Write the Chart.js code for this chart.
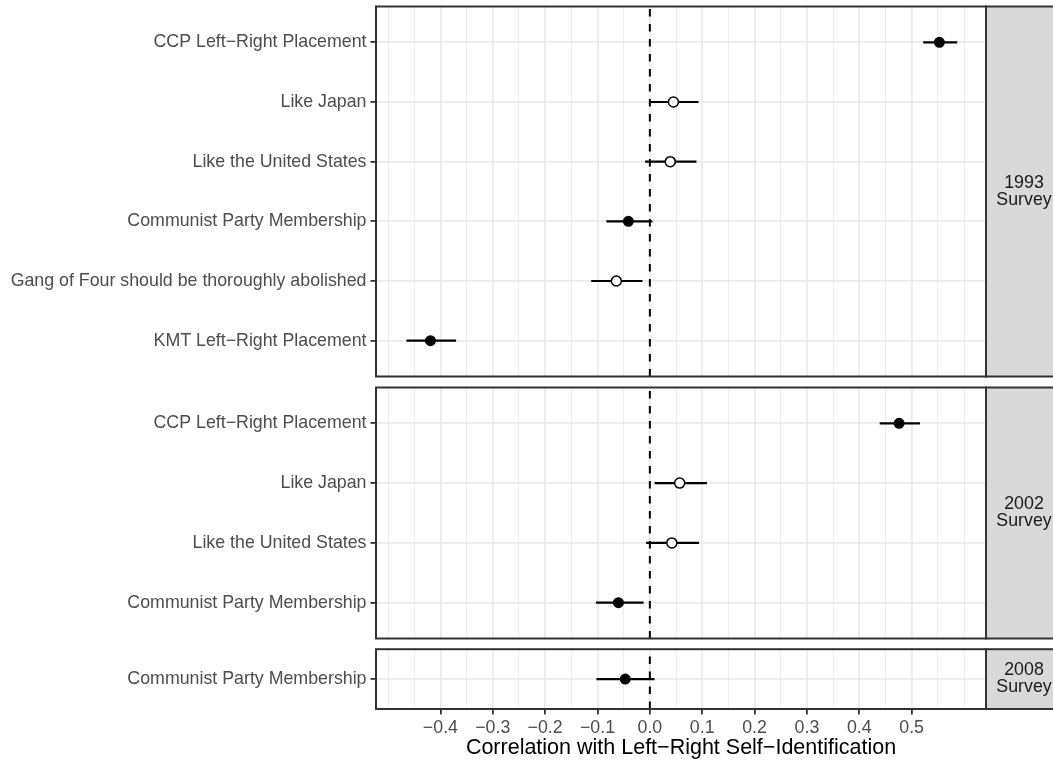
<!DOCTYPE html>
<html>
<head>
<meta charset="utf-8">
<script src="https://cdn.jsdelivr.net/npm/chart.js@4.4.1/dist/chart.umd.min.js"></script>
<style>
  body { margin: 0; background: #fff; }
  #wrap { position: relative; width: 1053px; height: 763px; overflow: hidden; }
  #wrap canvas { position: absolute; left: 0; }
</style>
</head>
<body>
<div id="wrap">
  <canvas id="s1993" width="1053" height="383" style="top:0"></canvas>
  <canvas id="s2002" width="1053" height="264" style="top:381px"></canvas>
  <canvas id="s2008" width="1053" height="120" style="top:643px"></canvas>
</div>
<script>
// 1993 survey
const items1993 = ['CCP Left\u2212Right Placement', 'Like Japan', 'Like the United States',
  'Communist Party Membership', 'Gang of Four should be thoroughly abolished', 'KMT Left\u2212Right Placement'];
const est1993 = [0.553, 0.045, 0.039, -0.041, -0.064, -0.419];
const lo1993 = [0.522, -0.001, -0.009, -0.083, -0.112, -0.465];
const hi1993 = [0.587, 0.093, 0.089, 0.005, -0.014, -0.370];
const sig1993 = [true, false, false, true, false, true];

// 2002 survey
const items2002 = ['CCP Left\u2212Right Placement', 'Like Japan', 'Like the United States', 'Communist Party Membership'];
const est2002 = [0.476, 0.057, 0.042, -0.060];
const lo2002 = [0.439, 0.009, -0.007, -0.103];
const hi2002 = [0.516, 0.109, 0.094, -0.012];
const sig2002 = [true, false, false, true];

// 2008 survey
const items2008 = ['Communist Party Membership'];
const est2008 = [-0.047];
const lo2008 = [-0.102];
const hi2008 = [0.009];
const sig2008 = [true];

// x axis breaks
const xTicks = [-0.4, -0.3, -0.2, -0.1, 0.0, 0.1, 0.2, 0.3, 0.4, 0.5];
const xMinor = [-0.5, -0.45, -0.35, -0.25, -0.15, -0.05, 0.05, 0.15, 0.25, 0.35, 0.45, 0.55, 0.6];

const FONT = '"Liberation Sans", Arial, Helvetica, sans-serif';
const AXIS_TEXT = '#4D4D4D';
const GRID = '#EBEBEB';
const FRAME = '#333333';

Chart.defaults.font.family = FONT;

const xGrid = xTicks.concat(xMinor).sort((a, b) => a - b);
const isMajor = v => xTicks.some(t => Math.abs(t - v) < 1e-9);
const fmt = v => (v < -1e-9 ? '\u2212' : '') + Math.abs(v).toFixed(1);

// zero line, panel frame and the grey strip on the right
const panelDecor = {
  id: 'panelDecor',
  beforeDatasetsDraw(chart) {
    const { ctx, chartArea: a, scales: { x } } = chart;
    const px = x.getPixelForValue(0);
    ctx.save();
    ctx.strokeStyle = '#000';
    ctx.lineWidth = 2;
    ctx.setLineDash([7.5, 7.5]);
    ctx.beginPath();
    ctx.moveTo(px, a.bottom);
    ctx.lineTo(px, a.top);
    ctx.stroke();
    ctx.restore();
  },
  afterDraw(chart, args, opts) {
    const { ctx, chartArea: a } = chart;
    const h = a.bottom - a.top;
    ctx.save();
    ctx.fillStyle = '#D9D9D9';
    ctx.fillRect(a.right, a.top, 76, h);
    ctx.strokeStyle = FRAME;
    ctx.lineWidth = 2;
    ctx.strokeRect(a.right, a.top, 76, h);
    ctx.strokeRect(a.left, a.top, a.right - a.left, h);
    ctx.fillStyle = '#1A1A1A';
    ctx.font = '17.8px ' + FONT;
    ctx.textAlign = 'center';
    ctx.textBaseline = 'middle';
    const cx = a.right + 38, cy = (a.top + a.bottom) / 2, lh = 17;
    opts.strip.forEach((t, i) => {
      ctx.fillText(t, cx, cy + (i - (opts.strip.length - 1) / 2) * lh);
    });
    ctx.restore();
  }
};

function makePanel(id, items, est, lo, hi, sig, strip, pad, showAxis) {
  const n = items.length;
  const points = {
    data: est.map((v, i) => ({ x: v, y: i + 1 })),
    pointRadius: sig.map(s => s ? 4.8 : 5),
    pointBorderWidth: sig.map(s => s ? 1.4 : 1.5),
    pointBackgroundColor: sig.map(s => s ? '#000' : '#fff'),
    pointBorderColor: '#000',
    order: 0
  };
  const ranges = lo.map((l, i) => ({
    data: [{ x: l, y: i + 1 }, { x: hi[i], y: i + 1 }],
    showLine: true,
    borderColor: '#000',
    borderWidth: 2.2,
    pointRadius: 0,
    order: 1
  }));

  return new Chart(document.getElementById(id), {
    type: 'scatter',
    data: { datasets: [points, ...ranges] },
    plugins: [panelDecor],
    options: {
      responsive: false,
      animation: false,
      devicePixelRatio: 1,
      layout: { padding: { top: pad.top, bottom: pad.bottom, left: 0, right: 67 } },
      plugins: {
        legend: { display: false },
        tooltip: { enabled: false },
        panelDecor: { strip: strip }
      },
      scales: {
        x: {
          type: 'linear',
          min: -0.523,
          max: 0.642,
          afterBuildTicks: s => { s.ticks = xGrid.map(v => ({ value: v })); },
          afterFit: s => {
            s.height = showAxis ? 54 : 0;
            s.paddingLeft = 0;
            s.paddingRight = 0;
          },
          border: { display: false },
          grid: {
            color: GRID,
            lineWidth: c => isMajor(c.tick.value) ? 1.8 : 0.9,
            drawTicks: showAxis,
            tickLength: 5.5,
            tickWidth: 1.8,
            tickColor: c => isMajor(c.tick.value) ? FRAME : 'rgba(0,0,0,0)'
          },
          ticks: {
            display: showAxis,
            autoSkip: false,
            maxRotation: 0,
            padding: 3,
            color: AXIS_TEXT,
            font: { size: 17.8 },
            callback: v => isMajor(v) ? fmt(v) : ''
          },
          title: {
            display: showAxis,
            text: 'Correlation with Left\u2212Right Self\u2212Identification',
            color: '#000',
            font: { size: 21.5 },
            padding: { top: 0, bottom: 2 }
          }
        },
        y: {
          type: 'linear',
          reverse: true,
          min: n > 1 ? 0.4 : 0.5,
          max: n > 1 ? n + 0.6 : 1.5,
          afterBuildTicks: s => { s.ticks = items.map((_, i) => ({ value: i + 1 })); },
          afterFit: s => {
            s.width = 376;
            s.paddingTop = 0;
            s.paddingBottom = 0;
          },
          border: { display: false },
          grid: { color: GRID, lineWidth: 1.8, tickLength: 5.5, tickWidth: 1.8, tickColor: FRAME },
          ticks: {
            autoSkip: false,
            padding: 4,
            color: AXIS_TEXT,
            font: { size: 17.8 },
            callback: v => items[Math.round(v) - 1]
          }
        }
      }
    }
  });
}

makePanel('s1993', items1993, est1993, lo1993, hi1993, sig1993, ['1993', 'Survey'], { top: 6, bottom: 6 }, false);
makePanel('s2002', items2002, est2002, lo2002, hi2002, sig2002, ['2002', 'Survey'], { top: 6, bottom: 6 }, false);
makePanel('s2008', items2008, est2008, lo2008, hi2008, sig2008, ['2008', 'Survey'], { top: 6, bottom: 0 }, true);
</script>
</body>
</html>
